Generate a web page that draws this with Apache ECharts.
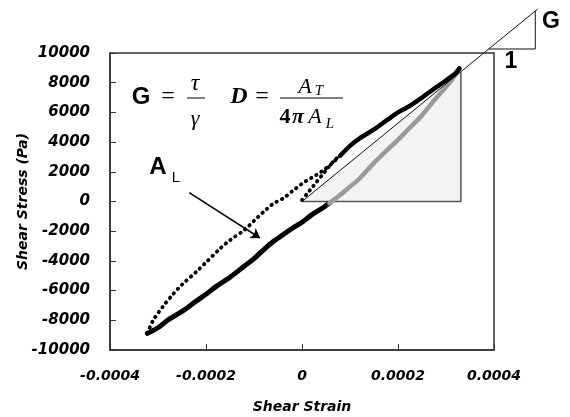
<!DOCTYPE html>
<html>
<head>
<meta charset="utf-8">
<script src="https://cdn.jsdelivr.net/npm/echarts@6/dist/echarts.min.js"></script>
<style>
  html, body { margin: 0; padding: 0; background: #fff; }
  #chart { width: 570px; height: 417px; }
</style>
</head>
<body>
<div id="chart"></div>
<script>
// hysteresis loop as [strain, stress (Pa)]
const upperSparse = [
  [-0.000322, -8877], [-0.00031, -8000], [-0.00029, -7085], [-0.00027, -6296],
  [-0.00025, -5600], [-0.00022, -4727], [-0.0002, -4100], [-0.00017, -3152],
  [-0.00015, -2600], [-0.00012, -1919], [-0.0001, -1300], [-0.00008, -700],
  [-0.00006, -150], [-0.00004, 200], [-0.00002, 700], [0, 1200],
  [0.00002, 1600], [0.00004, 2000], [0.00006, 2500], [0.00008, 3100],
];
const upperDense = [
  [0.00008, 3100], [0.0001, 3750], [0.00012, 4250], [0.00015, 4850], [0.00018, 5550],
  [0.0002, 6000], [0.00022, 6350], [0.00025, 7000], [0.00028, 7700], [0.0003, 8150],
  [0.00032, 8650], [0.000328, 8968],
];
const lowerBranch = [
  [-0.000322, -8877], [-0.0003, -8500], [-0.00028, -8000], [-0.00025, -7400],
  [-0.00022, -6700], [-0.0002, -6250], [-0.00018, -5750], [-0.00015, -5100],
  [-0.00012, -4350], [-0.0001, -3850], [-0.00008, -3250], [-0.00006, -2700],
  [-0.00004, -2250], [-0.00002, -1800], [0, -1400], [0.00002, -900],
  [0.00004, -500], [0.000057, -121],
];
const grayBranch = [
  [0.000057, -121], [0.00008, 450], [0.0001, 1000], [0.00012, 1550], [0.00015, 2600],
  [0.00018, 3550], [0.0002, 4150], [0.00022, 4815], [0.00025, 5800], [0.00027, 6600],
  [0.00029, 7350], [0.00031, 8100], [0.000328, 8968],
];
const initialLoad = [
  [0, 100], [0.00001, 500], [0.00002, 900], [0.00003, 1300], [0.00004, 1700],
  [0.00005, 2100], [0.00006, 2500], [0.00007, 2850], [0.00008, 3100],
];

// annotations in data units
const triangleAT = [[0, 0], [0.000331, 0], [0.000331, 8740]];
const slopeLine = [[0, 0], [0.000491, 12960]];
const slopeStep = [[0.000389, 10270], [0.000486, 10270], [0.000486, 12830]];
const arrowAL = [[-0.000235, 593], [-0.0000875, -2458]];

const strainTicks = { min: -0.0004, max: 0.0004, step: 0.0002 };
const stressTicks = { min: -10000, max: 10000, step: 2000 };

const axisFont = {
  color: "#000",
  fontFamily: "DejaVu Sans",
  fontWeight: "bold",
  fontStyle: "italic",
};

function strainLabel(v) {
  return Math.abs(v) < 1e-12 ? "0" : v.toFixed(4);
}

function txt(text, x, y, font, extra) {
  return {
    type: "text",
    silent: true,
    style: Object.assign({ text, x, y, font, fill: "#000", align: "center", verticalAlign: "middle" }, extra || {}),
  };
}

function bar(x1, x2, y) {
  return { type: "line", silent: true, shape: { x1, y1: y, x2, y2: y }, style: { stroke: "#000", lineWidth: 1 } };
}

// slope line + the little G/1 step, allowed to run past the plot frame
function renderSlope(params, api) {
  const toPts = (list) => list.map((p) => api.coord(p));
  return {
    type: "group",
    children: [
      { type: "polyline", shape: { points: toPts(slopeLine) }, style: { stroke: "#111", lineWidth: 1, fill: null } },
      { type: "polyline", shape: { points: toPts(slopeStep) }, style: { stroke: "#111", lineWidth: 1, fill: null } },
    ],
  };
}

const serif = "Liberation Serif";
const sans = "Liberation Sans";

const chart = echarts.init(document.getElementById("chart"));
chart.setOption({
  animation: false,
  backgroundColor: "#fff",
  grid: {
    left: 110, top: 53, right: 76, bottom: 67,
    outerBoundsMode: "none",
    containLabel: false,
    show: true, borderColor: "#333", borderWidth: 1.5, backgroundColor: "transparent",
  },
  xAxis: {
    type: "value",
    min: strainTicks.min, max: strainTicks.max, interval: strainTicks.step,
    name: "Shear Strain",
    nameLocation: "middle",
    nameGap: 50,
    nameMoveOverlap: false,
    nameTextStyle: Object.assign({ fontSize: 14 }, axisFont),
    axisLine: { show: true, onZero: false, lineStyle: { color: "#333", width: 1.5 } },
    axisTick: { show: true, inside: true, length: 6, lineStyle: { color: "#333" } },
    axisLabel: Object.assign({ fontSize: 14, margin: 19, formatter: strainLabel }, axisFont),
    splitLine: { show: false },
  },
  yAxis: {
    type: "value",
    min: stressTicks.min, max: stressTicks.max, interval: stressTicks.step,
    name: "Shear Stress (Pa)",
    nameLocation: "middle",
    nameGap: 80,
    nameMoveOverlap: false,
    nameTextStyle: Object.assign({ fontSize: 14 }, axisFont),
    axisLine: { show: true, onZero: false, lineStyle: { color: "#333", width: 1.5 } },
    axisTick: { show: true, inside: true, length: 6, lineStyle: { color: "#333" } },
    axisLabel: Object.assign({ fontSize: 15, margin: 20, formatter: (v) => String(v) }, axisFont),
    splitLine: { show: false },
  },
  series: [
    {
      name: "AT fill",
      type: "line",
      data: [triangleAT[0], triangleAT[2]],
      symbol: "none",
      lineStyle: { width: 0 },
      areaStyle: { color: "#f3f3f3", opacity: 1 },
      silent: true,
      z: 1,
    },
    {
      name: "AT edge",
      type: "line",
      data: triangleAT,
      symbol: "none",
      lineStyle: { color: "#555", width: 1.5 },
      silent: true,
      z: 2,
    },
    {
      name: "lower",
      type: "line",
      data: lowerBranch,
      smooth: 0.3,
      symbol: "none",
      lineStyle: { color: "#000", width: 5, cap: "round" },
      z: 3,
    },
    {
      name: "gray",
      type: "line",
      data: grayBranch,
      smooth: 0.3,
      symbol: "none",
      lineStyle: { color: "#9a9a9a", width: 4.5, cap: "round" },
      z: 3,
    },
    {
      name: "upper sparse",
      type: "line",
      data: upperSparse,
      smooth: 0.3,
      symbol: "none",
      lineStyle: { color: "#000", width: 3.8, type: [0.5, 5.5], cap: "round" },
      z: 3,
    },
    {
      name: "upper dense",
      type: "line",
      data: upperDense,
      smooth: 0.3,
      symbol: "none",
      lineStyle: { color: "#000", width: 4.5, cap: "round" },
      z: 3,
    },
    {
      name: "initial",
      type: "line",
      data: initialLoad,
      smooth: 0.3,
      symbol: "none",
      lineStyle: { color: "#000", width: 3.8, type: [0.5, 5.5], cap: "round" },
      z: 3,
      markLine: {
        silent: true,
        symbol: ["none", "arrow"],
        symbolSize: 9,
        label: { show: false },
        lineStyle: { color: "#000", width: 1.5, type: "solid" },
        data: [[{ coord: arrowAL[0] }, { coord: arrowAL[1] }]],
      },
    },
    {
      name: "slope",
      type: "custom",
      data: [0],
      clip: false,
      silent: true,
      renderItem: renderSlope,
      z: 4,
    },
  ],
  graphic: [
    // G = tau / gamma
    txt("G", 141, 97, "bold 24px " + sans),
    txt("=", 168, 97, "24px " + serif),
    txt("τ", 195, 84, "italic 24px " + serif),
    bar(187, 205, 98),
    txt("γ", 195, 119, "italic 22px " + serif),
    // D = AT / (4 pi AL)
    txt("D", 239, 97, "bold italic 24px " + serif),
    txt("=", 262, 97, "24px " + serif),
    bar(280, 343, 98),
    txt("A", 305, 87, "italic 22px " + serif),
    txt("T", 319, 91, "italic 15px " + serif),
    txt("4", 285, 117, "bold 22px " + serif),
    txt("π", 298, 117, "bold italic 22px " + serif),
    txt("A", 315, 117, "italic 22px " + serif),
    txt("L", 330, 124, "italic 15px " + serif),
    // area labels
    txt("A", 158, 167, "bold 24px " + sans),
    txt("L", 176, 178, "15px " + sans),
    txt("A", 410, 174, "bold 24px " + sans),
    txt("T", 425, 180, "15px " + sans),
    // slope step labels
    txt("G", 551, 22, "bold 23px " + sans),
    txt("1", 511, 62, "bold 23px " + sans),
  ],
});
</script>
</body>
</html>
